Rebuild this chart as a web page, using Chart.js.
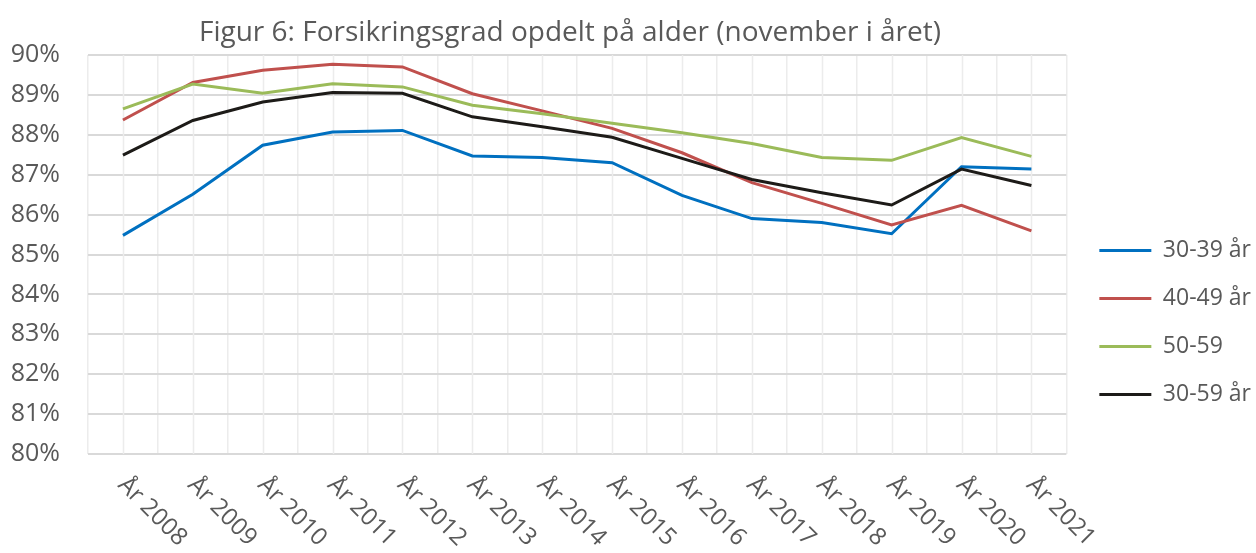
<!DOCTYPE html>
<html>
<head>
<meta charset="utf-8">
<script src="https://cdn.jsdelivr.net/npm/chart.js@4.4.1/dist/chart.umd.min.js"></script>
<style>
  html, body { margin: 0; padding: 0; background: #fff; }
  #wrap { width: 1256px; height: 553px; position: relative; }
</style>
</head>
<body>
<div id="wrap"><canvas id="c"></canvas></div>
<script>
const titleText = 'Figur 6: Forsikringsgrad opdelt på alder (november i året)';
const years = ['År 2008', 'År 2009', 'År 2010', 'År 2011', 'År 2012', 'År 2013', 'År 2014',
  'År 2015', 'År 2016', 'År 2017', 'År 2018', 'År 2019', 'År 2020', 'År 2021'];
const seriesNames = ['30-39 år', '40-49 år', '50-59', '30-59 år'];

// values in percent
const age3039 = [85.48, 86.51, 87.74, 88.07, 88.11, 87.47, 87.43, 87.30, 86.48, 85.90, 85.80, 85.52, 87.20, 87.14];
const age4049 = [88.37, 89.31, 89.62, 89.77, 89.70, 89.03, 88.60, 88.16, 87.55, 86.80, 86.28, 85.74, 86.23, 85.59];
const age5059 = [88.65, 89.27, 89.04, 89.28, 89.20, 88.74, 88.53, 88.29, 88.05, 87.78, 87.43, 87.36, 87.93, 87.46];
const age3059 = [87.49, 88.36, 88.82, 89.06, 89.04, 88.45, 88.20, 87.94, 87.41, 86.88, 86.55, 86.24, 87.14, 86.73];

const colors = ['#0070C0', '#C0504D', '#9BBB59', '#1d1b18'];
const font = "'Open Sans', 'Noto Sans', sans-serif";
const textColor = '#595959';

// Excel-ish extras: title, minor vertical grid lines, rotated category labels
const extras = {
  id: 'extras',
  afterInit(chart) {
    // nudge the legend items a bit to the right, like the original
    const legend = chart.legend;
    const draw = legend.draw;
    legend.draw = function (...args) {
      this.ctx.save();
      this.ctx.translate(8, 0);
      draw.apply(this, args);
      this.ctx.restore();
    };
  },
  beforeDatasetsDraw(chart) {
    const { ctx, chartArea, scales: { x } } = chart;
    ctx.save();
    ctx.strokeStyle = '#ececec';
    ctx.lineWidth = 1.5;
    years.forEach((_, i) => {
      const px = Math.round(x.getPixelForValue(i)) + 0.5;
      ctx.beginPath();
      ctx.moveTo(px, chartArea.top);
      ctx.lineTo(px, chartArea.bottom);
      ctx.stroke();
    });
    ctx.restore();
  },
  afterDraw(chart) {
    const { ctx, chartArea, scales: { x } } = chart;
    ctx.save();
    ctx.fillStyle = textColor;
    ctx.font = '28px ' + font;
    ctx.textAlign = 'center';
    ctx.textBaseline = 'alphabetic';
    ctx.fillText(titleText, 570, 41);

    ctx.font = '24px ' + font;
    ctx.textAlign = 'left';
    years.forEach((label, i) => {
      ctx.save();
      ctx.translate(x.getPixelForValue(i) - 6, chartArea.bottom + 32);
      ctx.rotate(Math.PI / 4);
      ctx.fillText(label, 0, 0);
      ctx.restore();
    });
    ctx.restore();
  }
};

const datasets = [age3039, age4049, age5059, age3059].map((data, i) => ({
  label: seriesNames[i],
  data: data,
  borderColor: colors[i],
  backgroundColor: colors[i],
  borderWidth: 3,
  pointRadius: 0,
  tension: 0,
  order: 3 - i
}));

new Chart(document.getElementById('c'), {
  type: 'line',
  data: { labels: years, datasets },
  options: {
    responsive: true,
    maintainAspectRatio: false,
    animation: false,
    layout: { padding: { top: 55, right: 3, left: 0, bottom: 0 } },
    scales: {
      x: {
        offset: true,
        grid: { offset: true, color: '#ececec', lineWidth: 1.5, drawTicks: false },
        border: { display: false },
        ticks: { display: false },
        afterFit(scale) { scale.height = 99; }
      },
      y: {
        min: 80,
        max: 90,
        grid: { color: '#d9d9d9', lineWidth: 2, drawTicks: false },
        border: { display: false },
        ticks: {
          stepSize: 1,
          padding: 28,
          color: textColor,
          font: { family: font, size: 25 },
          callback: v => v + '%'
        },
        afterFit(scale) { scale.width = 88; }
      }
    },
    plugins: {
      title: { display: false },
      tooltip: { enabled: false },
      legend: {
        position: 'right',
        title: { display: true, text: ' ', padding: { top: 25, bottom: 0 }, font: { size: 10 } },
        labels: {
          usePointStyle: true,
          pointStyle: 'line',
          pointStyleWidth: 52,
          padding: 25,
          color: textColor,
          font: { family: font, size: 23 },
          sort: (a, b) => a.datasetIndex - b.datasetIndex
        }
      }
    }
  },
  plugins: [extras]
});
</script>
</body>
</html>
